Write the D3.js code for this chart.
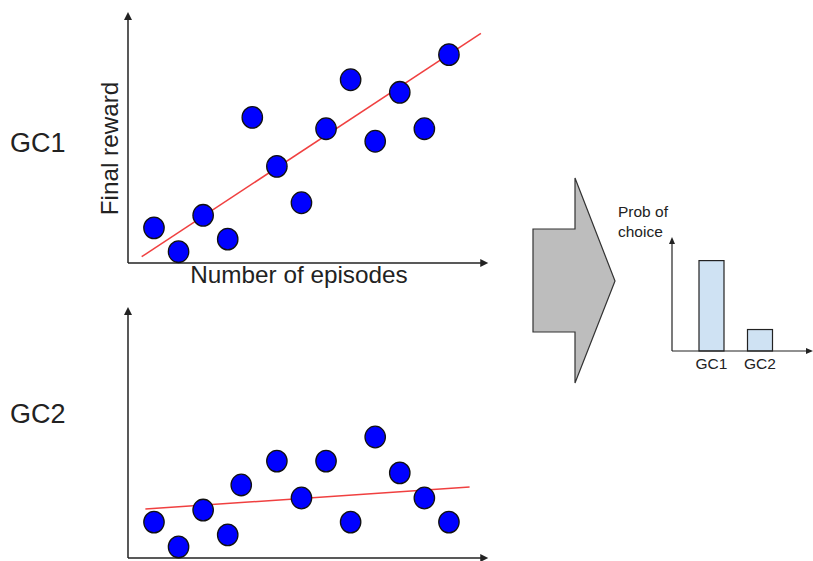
<!DOCTYPE html>
<html><head><meta charset="utf-8">
<script src="https://cdn.jsdelivr.net/npm/d3@7/dist/d3.min.js"></script>
<style>body{margin:0;background:#fff}svg{display:block}text{font-family:"Liberation Sans",Arial,sans-serif}</style>
</head><body><svg id="c" width="813" height="561"></svg>
<script>
// Data
const episodesGC1 = [1,2,3,4,5,6,7,8,9,10,11,12,13];
const rewardGC1   = [1.4,0.45,1.9,0.95,5.8,3.85,2.4,5.35,7.3,4.85,6.8,5.35,8.3];
const trendGC1X   = [0.5,14.3];
const trendGC1Y   = [0.25,9.15];
const episodesGC2 = [1,2,3,4,4.55,6,7,8,9,10,11,12,13];
const rewardGC2   = [1.43,0.44,1.91,0.92,2.91,3.86,2.39,3.86,1.43,4.82,3.39,2.39,1.43];
const trendGC2X   = [0.65,13.84];
const trendGC2Y   = [1.95,2.83];
const choices     = ["GC1","GC2"];
const probChoice  = [0.8,0.19];

const svg = d3.select("#c");
const AX = "#222";

function arrowHead(g, x, y, dir){
  const s=4, l=8; let pts;
  if(dir==="up") pts=[[x,y],[x-s,y+l],[x+s,y+l]];
  else pts=[[x,y],[x-l,y-s],[x-l,y+s]];
  g.append("path").attr("d","M"+pts.map(p=>p.join(",")).join("L")+"Z").attr("fill",AX);
}

function scatter(cfg){
  const x = d3.scaleLinear().domain([0,1]).range([129.4,153.98]);
  const x0 = -0.057, x1 = 14.6;
  const y = d3.scaleLinear().domain([0,10]).range([cfg.bottom, cfg.top]);
  const g = svg.append("g");
  g.append("line").attr("x1",x(x0)).attr("x2",x(x1)-4).attr("y1",y(0)).attr("y2",y(0)).attr("stroke",AX).attr("stroke-width",1.5);
  g.append("line").attr("x1",x(x0)).attr("x2",x(x0)).attr("y1",y(0)).attr("y2",y(10)+4).attr("stroke",AX).attr("stroke-width",1.5);
  arrowHead(g, x(x1), y(0), "right");
  arrowHead(g, x(x0), y(10), "up");
  g.append("line").attr("x1",x(cfg.tx[0])).attr("y1",y(cfg.ty[0])).attr("x2",x(cfg.tx[1])).attr("y2",y(cfg.ty[1]))
    .attr("stroke","#f04040").attr("stroke-width",1.5);
  g.selectAll("ellipse.p").data(cfg.xs.map((d,i)=>[d,cfg.ys[i]])).join("ellipse")
    .attr("cx",d=>x(d[0])).attr("cy",d=>y(d[1])).attr("rx",10.2).attr("ry",10.8)
    .attr("fill","#0000ff").attr("stroke","#111").attr("stroke-width",1.3);
  return {x,y,g};
}

scatter({top:12,bottom:263,xs:episodesGC1,ys:rewardGC1,tx:trendGC1X,ty:trendGC1Y});
scatter({top:307,bottom:558,xs:episodesGC2,ys:rewardGC2,tx:trendGC2X,ty:trendGC2Y});

svg.append("text").attr("x",299).attr("y",283).attr("text-anchor","middle").attr("font-size",24.3).attr("fill","#222").text("Number of episodes");
svg.append("text").attr("transform","translate(118,148.5) rotate(-90)").attr("text-anchor","middle").attr("font-size",24.3).attr("fill","#222").text("Final reward");

svg.append("text").attr("x",10).attr("y",152).attr("font-size",27).attr("fill","#222").text("GC1");
svg.append("text").attr("x",10).attr("y",423).attr("font-size",27).attr("fill","#222").text("GC2");

const arrowPts = [[575,178],[615,281],[575,383],[575,332],[533,332],[533,229],[575,229]];
svg.append("path").attr("d","M"+arrowPts.map(p=>p.join(",")).join("L")+"Z")
  .attr("fill","#bdbdbd").attr("stroke","#333").attr("stroke-width",1.2);

const bx = d3.scalePoint().domain(choices).range([711.5,760]);
const by = d3.scaleLinear().domain([0,1]).range([351,238]);
const bg = svg.append("g");
bg.selectAll("rect").data(choices.map((c,i)=>[c,probChoice[i]])).join("rect")
  .attr("x",d=>bx(d[0])-12.5).attr("width",25).attr("y",d=>by(d[1])).attr("height",d=>by(0)-by(d[1]))
  .attr("fill","#cfe2f3").attr("stroke","#222").attr("stroke-width",1.2);
bg.append("line").attr("x1",672).attr("x2",808).attr("y1",by(0)).attr("y2",by(0)).attr("stroke",AX).attr("stroke-width",1.2);
bg.append("line").attr("x1",672).attr("x2",672).attr("y1",by(0)).attr("y2",by(1)+3).attr("stroke",AX).attr("stroke-width",1.2);
bg.append("path").attr("d",`M${672},${by(1)-1}L${669},${by(1)+6}L${675},${by(1)+6}Z`).attr("fill",AX);
bg.append("path").attr("d",`M813,${by(0)}L806,${by(0)-3}L806,${by(0)+3}Z`).attr("fill",AX);
bg.selectAll("text.t").data(choices).join("text").attr("x",d=>bx(d)).attr("y",369)
  .attr("text-anchor","middle").attr("font-size",15.5).attr("fill","#222").text(d=>d);
svg.append("text").attr("x",618).attr("y",216.5).attr("font-size",15.5).attr("fill","#222").text("Prob of");
svg.append("text").attr("x",618).attr("y",236.5).attr("font-size",15.5).attr("fill","#222").text("choice");
</script></body></html>
